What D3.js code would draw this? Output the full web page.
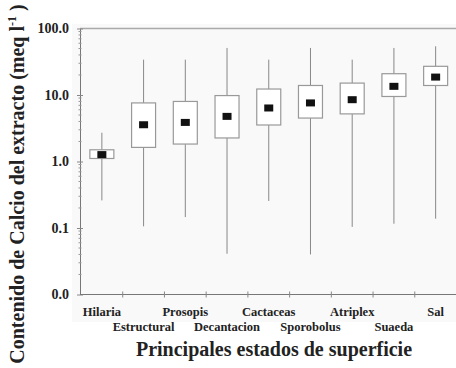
<!DOCTYPE html>
<html><head><meta charset="utf-8">
<script src="https://cdn.jsdelivr.net/npm/d3@7"></script>
<style>html,body{margin:0;padding:0;background:#fff;}svg{display:block;}</style>
</head><body>
<svg id="c" width="456" height="368"></svg>
<script>
const categories = ["Hilaria","Estructural","Prosopis","Decantacion","Cactaceas","Sporobolus","Atriplex","Suaeda","Sal"];
const whiskerMin = [0.26, 0.106, 0.146, 0.041, 0.255, 0.040, 0.104, 0.116, 0.138];
const boxLow     = [1.11, 1.63, 1.83, 2.26, 3.54, 4.5, 5.2, 9.5, 13.9];
const meanVal    = [1.27, 3.57, 3.87, 4.77, 6.38, 7.6, 8.5, 13.5, 18.6];
const boxHigh    = [1.50, 7.6, 8.0, 9.8, 12.3, 13.9, 15.1, 20.9, 27.0];
const whiskerMax = [2.71, 34, 34, 51, 34, 51, 34, 51, 54];
const yTicks = [0.01, 0.1, 1, 10, 100];
const yTickLabels = ["0.0","0.1","1.0","10.0","100.0"];
const xTitle = "Principales estados de superficie";
const yTitle = "Contenido de Calcio del extracto (meq l";

const svg = d3.select("#c");
const serif = "'Liberation Serif','DejaVu Serif',serif";
const x = d3.scaleBand().domain(categories).range([81, 456.5]).padding(0);
const y = d3.scaleLog().domain([0.01, 100]).range([294.5, 28.5]);

// faint scan background
svg.append("rect").attr("x",72).attr("y",24).attr("width",384).attr("height",298).attr("fill","#f9f9f9");

// top border
svg.append("line").attr("x1",80).attr("x2",456).attr("y1",y(100)).attr("y2",y(100))
  .attr("stroke","#aaa").attr("stroke-width",1.6);

// Y axis
const yAxis = d3.axisLeft(y).tickValues(yTicks).tickFormat((d,i)=>yTickLabels[i]).tickSizeInner(3).tickSizeOuter(0).tickPadding(8);
const gy = svg.append("g").attr("transform","translate(80,0)").call(yAxis);
gy.select(".domain").attr("stroke","#777");
gy.selectAll(".tick line").attr("stroke","#888").attr("x2",3).attr("x1",-3);
gy.selectAll(".tick text").attr("font-family",serif).attr("font-size",14).attr("font-weight","bold").attr("fill","#222");
// minor ticks
const minors = [];
[0.01,0.1,1,10].forEach(d=>{for(let k=2;k<=9;k++) minors.push(d*k);});
gy.selectAll(".minor").data(minors).enter().append("line").attr("class","minor")
  .attr("x1",-1.5).attr("x2",1.5).attr("y1",d=>y(d)).attr("y2",d=>y(d)).attr("stroke","#999");

// X axis
const gx = svg.append("g").attr("transform","translate(0,294.5)");
gx.append("line").attr("x1",80).attr("x2",456).attr("stroke","#777");
gx.selectAll(".xt").data(categories.slice(1)).enter().append("line")
  .attr("x1",d=>x(d)).attr("x2",d=>x(d)).attr("y1",-3).attr("y2",3).attr("stroke","#888");
gx.selectAll(".xl").data(categories).enter().append("text")
  .attr("x",d=>x(d)+x.bandwidth()/2)
  .attr("y",(d,i)=> i%2===0 ? 21 : 36.5)
  .attr("text-anchor","middle").attr("font-family",serif).attr("font-size",12.5).attr("font-weight","bold").attr("fill","#222")
  .text(d=>d);

// boxes
const bw = 24;
const g = svg.append("g");
categories.forEach((c,i)=>{
  const cx = x(c)+x.bandwidth()/2;
  g.append("line").attr("x1",cx).attr("x2",cx).attr("y1",y(boxHigh[i])).attr("y2",y(whiskerMax[i])).attr("stroke","#888");
  g.append("line").attr("x1",cx).attr("x2",cx).attr("y1",y(boxLow[i])).attr("y2",y(whiskerMin[i])).attr("stroke","#888");
  g.append("rect").attr("x",cx-bw/2).attr("y",y(boxHigh[i])).attr("width",bw).attr("height",y(boxLow[i])-y(boxHigh[i]))
    .attr("fill","#fff").attr("stroke","#999").attr("stroke-width",1.2);
  g.append("rect").attr("x",cx-4.5).attr("y",y(meanVal[i])-3.5).attr("width",9).attr("height",7).attr("fill","#111");
});

// titles
svg.append("text").attr("x",274).attr("y",356).attr("text-anchor","middle")
  .attr("font-family",serif).attr("font-size",20).attr("font-weight","bold").attr("fill","#222").text(xTitle);
const yt = svg.append("text").attr("transform","translate(24,184) rotate(-90)").attr("text-anchor","middle")
  .attr("font-family",serif).attr("font-size",20).attr("font-weight","bold").attr("fill","#222");
yt.append("tspan").text(yTitle);
yt.append("tspan").attr("font-size",12).attr("dy",-8).text("-1");
yt.append("tspan").attr("dy",8).text(" )");
</script>
</body></html>
